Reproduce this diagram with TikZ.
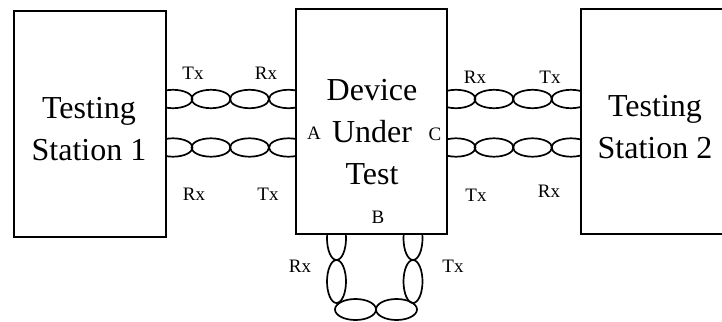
\documentclass[tikz,border=0pt]{standalone}
\usepackage{fontspec}
\setmainfont{Liberation Serif}
\usepackage{tikz}

\tikzset{
  boxnode/.style={draw,fill=white,line width=1.8pt,inner sep=0pt},
  bigtext/.style={align=center,font=\fontsize{32}{42}\selectfont},
  portlbl/.style={anchor=base,inner sep=0pt,font=\fontsize{19}{20}\selectfont},
  pair/.style={line width=1.7pt}
}

\begin{document}
\begin{tikzpicture}[x=1pt,y=-1pt]
    \useasboundingbox (0,0) rectangle (722,321);
    \clip (0,0) rectangle (722,321);
    % Twisted pairs
    \foreach \yy in {99,147.5} {
      \foreach \xx in {173,211,249.5,288.5}
        \draw[pair] (\xx,\yy) ellipse [x radius=19.5,y radius=9.2];
      \foreach \xx in {456,494,532.5,571}
        \draw[pair] (\xx,\yy) ellipse [x radius=19.5,y radius=9.2];
    }
    \foreach \xx in {336.5,413} {
      \draw[pair] (\xx,238.5) ellipse [x radius=9.5,y radius=21.5];
      \draw[pair] (\xx,281.5) ellipse [x radius=9.5,y radius=21.5];
    }
    \draw[pair] (355.5,309.5) ellipse [x radius=20.5,y radius=10.5];
    \draw[pair] (396.5,309.5) ellipse [x radius=20.5,y radius=10.5];
    % Boxes
    \node[boxnode,minimum width=152,minimum height=226] (ts1) at (90,124) {};
    \node[boxnode,minimum width=151,minimum height=225] (dut) at (371.5,121.5) {};
    \node[boxnode,minimum width=148,minimum height=225] (ts2) at (655,121.5) {};
    \node[bigtext] (ts1txt) at (89,129) {Testing\\Station 1};
    \node[bigtext] (duttxt) at (372,132) {Device\\Under\\Test};
    \node[bigtext] (ts2txt) at (655,127) {Testing\\Station 2};
    % Ports
    \node[portlbl] (porta) at (314,139) {A};
    \node[portlbl] (portb) at (378,223) {B};
    \node[portlbl] (portc) at (435,140) {C};
    % Labels
    \node[portlbl] (tx1) at (193,79) {Tx};
    \node[portlbl] (rx1) at (266,79) {Rx};
    \node[portlbl] (rx2) at (194,200) {Rx};
    \node[portlbl] (tx2) at (268,200) {Tx};
    \node[portlbl] (rx3) at (475,83) {Rx};
    \node[portlbl] (tx3) at (550,83) {Tx};
    \node[portlbl] (tx4) at (476,201) {Tx};
    \node[portlbl] (rx4) at (549,197) {Rx};
    \node[portlbl] (rx5) at (300,272) {Rx};
    \node[portlbl] (tx5) at (453,272) {Tx};
\end{tikzpicture}
\end{document}
